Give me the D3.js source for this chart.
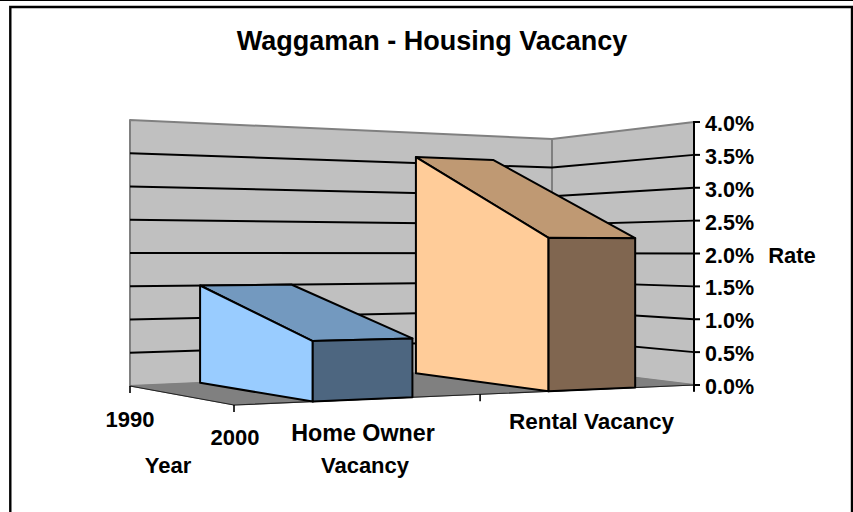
<!DOCTYPE html>
<html><head><meta charset="utf-8">
<style>html,body{margin:0;padding:0;background:#fff}svg{display:block}text{font-family:"Liberation Sans",Arial,sans-serif;font-weight:bold;fill:#000}</style>
<script src="https://cdn.jsdelivr.net/npm/d3@7"></script></head><body>
<script>
const categories = ["Home Owner Vacancy", "Rental Vacancy"];
const years = ["1990", "2000"];
const homeOwner = [0.015, 0.0082];
const rental = [0.036, 0.0223];
const seriesValues = [homeOwner, rental];
const rateTicks = [0, .005, .01, .015, .02, .025, .03, .035, .04];
const frontColors = ["#99CCFF", "#FFCC99"];
const topColors = ["#7399BF", "#BF9973"];
const sideColors = ["#4D6680", "#806650"];

const W = 853, H = 512;
const svg = d3.select("body").append("svg").attr("width", W).attr("height", H);

// oblique projection: u along categories, d along years, height from value
const uScale = d3.scaleLinear().domain([0, 1, 2]).range([0, .535, 1]);
const dScale = d3.scalePoint().domain(years).range([0, 1]);
const xBack = d3.scaleLinear().domain([0, .171, .684, .872, 1]).range([130, 200, 416, 493, 552]);
const xFront = d3.scaleLinear().domain([0, 1]).range([234, 694]);
const yBack = d3.scaleLinear().domain([0, 1]).range([386, 367.5]);
const yFront = d3.scaleLinear().domain([0, 1]).range([405, 385]);
const hBack = d3.scaleLinear().domain([0, 1]).range([266, 228.5]);
const hFront = d3.scaleLinear().domain([0, 1]).range([302, 263]);
const vScale = d3.scaleLinear().domain([0, .04]).range([0, 1]);
function P(u, d, v) {
  const m = (a, b) => a + (b - a) * d;
  return [m(xBack(u), xFront(u)), m(yBack(u), yFront(u)) - m(hBack(u), hFront(u)) * vScale(v)];
}
const line = d3.line();
const poly = (pts, fill, stroke, sw) => svg.append("path").attr("d", line(pts) + "Z")
  .attr("fill", fill).attr("stroke", stroke || "none").attr("stroke-width", sw || 0).attr("stroke-linejoin", "round");

// frame
svg.append("rect").attr("x", 0).attr("y", 0).attr("width", W).attr("height", 1).attr("fill", "#000");
svg.append("path").attr("d", "M10.3,512V7H852V512").attr("fill", "none").attr("stroke", "#000").attr("stroke-width", 2.4);

// floor and walls
const vMax = d3.max(rateTicks);
poly([P(0,0,0), P(1,0,0), P(1,0,vMax), P(0,0,vMax)], "#C0C0C0", "#808080", 2);
poly([P(1,0,0), P(1,1,0), P(1,1,vMax), P(1,0,vMax)], "#C0C0C0", "#808080", 2);
poly([P(0,0,0), P(1,0,0), P(1,1,0), P(0,1,0)], "#808080", "#808080", 1);
svg.append("path").attr("d", line([P(0,0,0), P(0,1,0), P(1,1,0)])).attr("fill", "none").attr("stroke", "#222").attr("stroke-width", 1.2);

// gridlines
rateTicks.slice(1, -1).forEach(v => {
  svg.append("path").attr("d", line([P(0,0,v), P(1,0,v), P(1,1,v)]))
    .attr("fill", "none").attr("stroke", "#000").attr("stroke-width", 2);
});

// ribbons
seriesValues.forEach((vals, i) => {
  const uL = uScale(i + .32), uR = uScale(i + .725);
  const [v0, v1] = vals, st = "#000", sw = 2;
  const d0 = dScale(years[0]), d1 = dScale(years[1]);
  poly([P(uL,d0,v0), P(uR,d0,v0), P(uR,d1,v1), P(uL,d1,v1)], topColors[i], st, sw);
  poly([P(uL,d0,0), P(uL,d1,0), P(uL,d1,v1), P(uL,d0,v0)], frontColors[i], st, sw);
  poly([P(uL,d1,0), P(uR,d1,0), P(uR,d1,v1), P(uL,d1,v1)], sideColors[i], st, sw);
});

// value axis
const rX = P(1,1,0)[0];
const fmt = d3.format(".1%");
svg.append("line").attr("x1", rX).attr("x2", rX).attr("y1", P(1,1,vMax)[1] - 1).attr("y2", 391).attr("stroke", "#000").attr("stroke-width", 2);
rateTicks.forEach(v => {
  const y = P(1,1,v)[1];
  svg.append("line").attr("x1", rX).attr("x2", rX + 6).attr("y1", y).attr("y2", y).attr("stroke", "#000").attr("stroke-width", 2);
  svg.append("text").attr("x", 705).attr("y", y + 9).attr("font-size", 21.5).text(fmt(v));
});

// lower ticks
[[0,0],[0,1],[1,1],[2,1]].forEach(([c, d]) => {
  const p = P(uScale(c), d, 0);
  svg.append("line").attr("x1", p[0]).attr("x2", p[0]).attr("y1", p[1]).attr("y2", p[1] + 7).attr("stroke", "#000").attr("stroke-width", 1.6);
});

const label = (t, x, y, s) => svg.append("text").attr("x", x).attr("y", y).attr("font-size", s || 22).attr("text-anchor", "middle").text(t);
label(years[0], 130, 427);
label(years[1], 235, 445);
label("Home Owner", 363, 441, 23.3);
label("Vacancy", 365, 473);
label(categories[1], 591.5, 429, 22.5);
label("Year", 168, 473);
label("Rate", 792, 263);
svg.append("text").attr("x", 432).attr("y", 50).attr("text-anchor", "middle").attr("font-size", 27).text("Waggaman - Housing Vacancy");
</script></body></html>
